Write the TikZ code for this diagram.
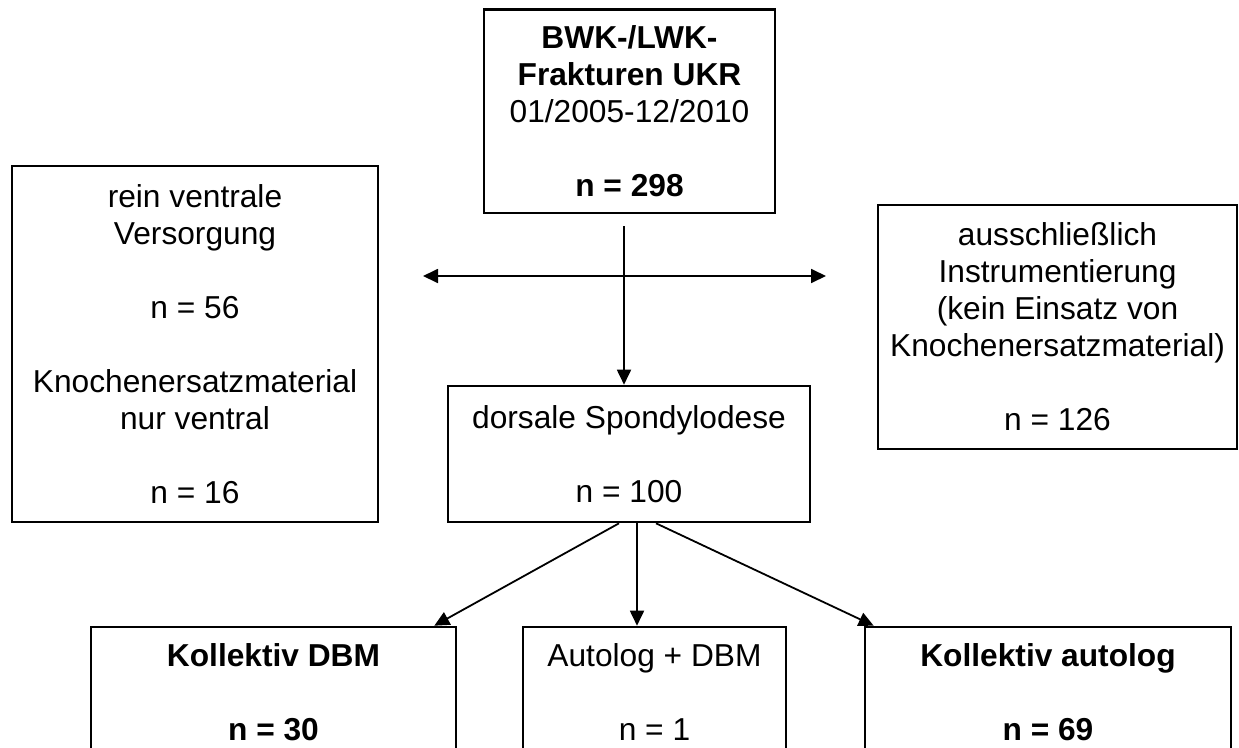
\documentclass[tikz,border=0pt]{standalone}
\usepackage{fontspec}
\setmainfont{Liberation Sans}
\usetikzlibrary{arrows.meta,calc}
\begin{document}
\begin{tikzpicture}[x=1pt,y=-1pt,
  box/.style={draw, line width=2.6pt, rectangle, inner sep=0pt, align=center,
    font=\fontsize{31.7}{37}\selectfont},
  tip/.style={Triangle[length=15pt,width=14pt]},
  conn/.style={line width=1.8pt, -{Triangle[length=15pt,width=14pt]}},
  twoway/.style={line width=1.8pt, {Triangle[length=15pt,width=14pt]}-{Triangle[length=15pt,width=14pt]}},
]
\useasboundingbox (0,0) rectangle (1239,747);
\clip (0,0) rectangle (1239,747);

% total cohort
\node[box, minimum width=291pt, minimum height=203.5pt] (total) at (629.5,111.25)
  {\textbf{BWK-/LWK-}\\\textbf{Frakturen UKR}\\01/2005-12/2010\\[37pt]\textbf{n = 298}};

% excluded groups
\node[box, minimum width=366pt, minimum height=356pt] (ventral) at (195,344)
  {rein ventrale\\Versorgung\\[37pt]n = 56\\[37pt]Knochenersatzmaterial\\nur ventral\\[37pt]n = 16};
\node[box, minimum width=359pt, minimum height=244pt] (instr) at (1057.5,327)
  {ausschließlich\\Instrumentierung\\(kein Einsatz von\\Knochenersatzmaterial)\\[37pt]n = 126};

% dorsal fusion
\node[box, minimum width=362pt, minimum height=136pt] (dorsal) at (629,454)
  {dorsale Spondylodese\\[37pt]n = 100};

% resulting groups
\node[box, minimum width=365pt, minimum height=131pt] (dbm) at (273.5,692.5)
  {\textbf{Kollektiv DBM}\\[37pt]\textbf{n = 30}};
\node[box, minimum width=263pt, minimum height=131pt] (mixed) at (654.5,692.5)
  {Autolog + DBM\\[37pt]n = 1};
\node[box, minimum width=366pt, minimum height=131pt] (autolog) at (1048,692.5)
  {\textbf{Kollektiv autolog}\\[37pt]\textbf{n = 69}};

% split below the total cohort
\coordinate (vstart) at (624,226);
\coordinate (hleft) at (423,276);
\coordinate (hright) at (826,276);
\draw[conn] (vstart) -- (vstart |- dorsal.north);
\draw[twoway] (hleft) -- (hright);

% split below the dorsal fusion group
\coordinate (outl) at ($(dorsal.south)+(-10,0)$);
\coordinate (outm) at ($(dorsal.south)+(8,0)$);
\coordinate (outr) at ($(dorsal.south)+(27,0)$);
\draw[conn] (outl) -- ($(dbm.north east)+(-23,0)$);
\draw[conn] (outm) -- (outm |- mixed.north);
\draw[conn] (outr) -- ($(autolog.north west)+(10,0)$);
\end{tikzpicture}
\end{document}
